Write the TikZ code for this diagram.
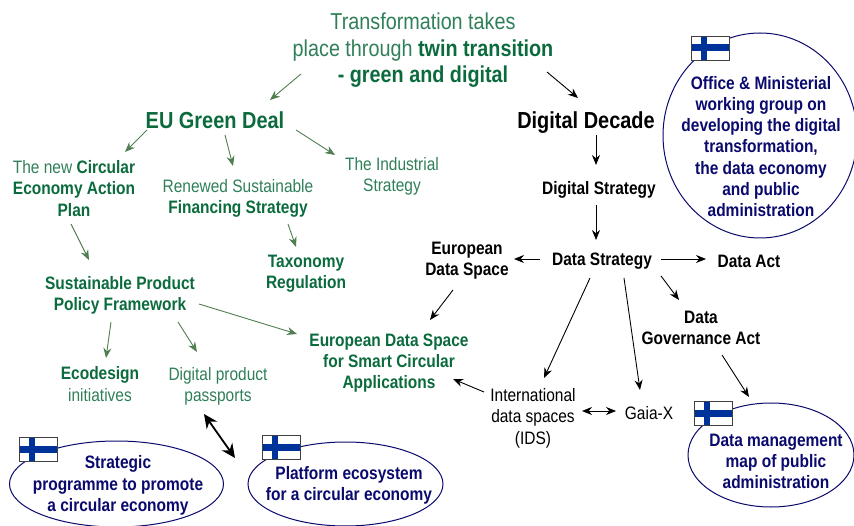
\documentclass[tikz,border=0pt]{standalone}
\usepackage{fontspec}
\setmainfont{Liberation Sans}[FakeStretch=0.86]
\usetikzlibrary{arrows.meta}
\definecolor{gdark}{HTML}{0B6B3C}
\definecolor{glight}{HTML}{2F7F58}
\definecolor{garrow}{HTML}{4F7F50}
\definecolor{navytxt}{HTML}{0A0A6E}
\definecolor{fiblue}{HTML}{003399}
\newcommand{\szA}{\fontsize{23}{26.5}\selectfont}
\newcommand{\szB}{\fontsize{23.2}{26}\selectfont\bfseries}
\newcommand{\szC}{\fontsize{18}{21.5}\selectfont}
\newcommand{\szD}{\fontsize{18}{21.3}\selectfont\bfseries}
\newcommand{\gb}[1]{\textcolor{gdark}{\bfseries #1}}
\tikzset{
  x=1pt,y=-1pt,
  lbl/.style={inner sep=0pt,align=center,anchor=center,yshift=-1.5pt},
  grn/.style={lbl,text=glight,font=\szC},
  grnb/.style={lbl,text=gdark,font=\szD},
  blk/.style={lbl,text=black,font=\szC},
  blkb/.style={lbl,text=black,font=\szD},
  nvy/.style={lbl,text=navytxt,font=\szD},
  ell/.style={draw=navytxt,line width=1pt,fill=white},
  garr/.style={draw=garrow,line width=0.9pt,-{Stealth[length=10pt,width=8pt]}},
  barr/.style={draw=black,line width=0.9pt,-{Stealth[length=10pt,width=8pt]}},
  darr/.style={draw=black,line width=0.9pt,{Stealth[length=10pt,width=8pt]}-{Stealth[length=10pt,width=8pt]}},
  tarr/.style={draw=black,line width=1.8pt,{Stealth[length=14pt,width=13pt]}-{Stealth[length=14pt,width=13pt]}},
}
\newcommand{\fiflag}[2]{%
  \fill[white] (#1,#2) rectangle ++(38,24);
  \fill[fiblue] (#1+10,#2) rectangle ++(6,24);
  \fill[fiblue] (#1,#2+8.5) rectangle ++(38,7);
  \draw[draw=black!75,line width=0.8pt] (#1,#2) rectangle ++(38,24);
}
\begin{document}
\begin{tikzpicture}
\useasboundingbox (0,0) rectangle (854,526);
% ellipses
\draw[ell] (116.5,484) ellipse [x radius=107,y radius=43];
\draw[ell] (345.5,484) ellipse [x radius=97.5,y radius=42];
\draw[ell] (760,135.5) ellipse [x radius=97,y radius=102.5];
\draw[ell] (771,455) ellipse [x radius=83,y radius=52];
\fiflag{19}{437}
\fiflag{262}{435}
\fiflag{691}{36}
\fiflag{694}{401}
% nodes
\node[lbl,text=glight,font=\szA] (title) at (423,49) {Transformation takes\\place through \gb{twin transition}\\\gb{- green and digital}};
\node[lbl,text=gdark,font=\szB] (eu) at (215,118.5) {EU Green Deal};
\node[lbl,text=black,font=\szB] (dd) at (586,121) {Digital Decade};
\node[grn] (cap) at (74,187) {The new \gb{Circular}\\\gb{Economy Action}\\\gb{Plan}};
\node[grn] (rsf) at (238,197) {Renewed Sustainable\\\gb{Financing Strategy}};
\node[grn] (ind) at (392,175) {The Industrial\\Strategy};
\node[grnb] (sppf) at (120,293.5) {Sustainable Product\\Policy Framework};
\node[grnb] (tax) at (306,272) {Taxonomy\\Regulation};
\node[blkb] (ds) at (599,188) {Digital Strategy};
\node[blkb] (eds) at (467,259) {European\\Data Space};
\node[blkb] (dst) at (602,259.5) {Data Strategy};
\node[blkb] (dact) at (749,259.5) {Data Act};
\node[blkb] (dga) at (701,326.5) {Data\\Governance Act};
\node[grnb] (edssca) at (389,361.5) {European Data Space\\for Smart Circular\\Applications};
\node[grn] (eco) at (100,382.5) {\gb{Ecodesign}\\initiatives};
\node[grn] (dpp) at (218,385) {Digital product\\passports};
\node[blk] (ids) at (533,416.5) {International\\data spaces\\(IDS)};
\node[blk] (gaia) at (649,412) {Gaia-X};
\node[nvy] (spc) at (118,484) {Strategic\\programme to promote\\a circular economy};
\node[nvy] (plat) at (349,484) {Platform ecosystem\\for a circular economy};
\node[nvy] (off) at (761,145) {Office \& Ministerial\\working group on\\developing the digital\\transformation,\\the data economy\\and public\\administration};
\node[nvy] (dm) at (776,460) {Data management\\map of public\\administration};
% connectors
\draw[garr] ([shift={(-122,25-1.5)}]title.center) -- ([shift={(55,-18.5-1.5)}]eu.center);
\draw[barr] ([shift={(124,23-1.5)}]title.center) -- ([shift={(-8,-23-1.5)}]dd.center);
\draw[garr] ([shift={(-68,11.5-1.5)}]eu.center) -- ([shift={(51,-35-1.5)}]cap.center);
\draw[garr] ([shift={(10,16.5-1.5)}]eu.center) -- ([shift={(-5,-31-1.5)}]rsf.center);
\draw[garr] ([shift={(81,11.5-1.5)}]eu.center) -- ([shift={(-57,-20-1.5)}]ind.center);
\draw[garr] ([shift={(-3,37-1.5)}]cap.center) -- ([shift={(-31,-33.5-1.5)}]sppf.center);
\draw[garr] ([shift={(50,27-1.5)}]rsf.center) -- ([shift={(-10,-25-1.5)}]tax.center);
\draw[garr] ([shift={(-9,28.5-1.5)}]sppf.center) -- ([shift={(6,-24.5-1.5)}]eco.center);
\draw[garr] ([shift={(58,28.5-1.5)}]sppf.center) -- ([shift={(-21,-33-1.5)}]dpp.center);
\draw[garr] ([shift={(79,10.5-1.5)}]sppf.center) -- ([shift={(-92,-27.5-1.5)}]edssca.center);
\draw[barr] ([shift={(10,14-1.5)}]dd.center) -- ([shift={(-3,-23-1.5)}]ds.center);
\draw[barr] ([shift={(-3,17-1.5)}]ds.center) -- ([shift={(-6,-19.5-1.5)}]dst.center);
\draw[barr] ([shift={(-62,-0.5-1.5)}]dst.center) -- ([shift={(47,0-1.5)}]eds.center);
\draw[barr] ([shift={(59,-0.5-1.5)}]dst.center) -- ([shift={(-43,-0.5-1.5)}]dact.center);
\draw[barr] ([shift={(59,16.5-1.5)}]dst.center) -- ([shift={(-22,-26.5-1.5)}]dga.center);
\draw[barr] ([shift={(-14,31-1.5)}]eds.center) -- ([shift={(41,-41.5-1.5)}]edssca.center);
\draw[barr] ([shift={(-12,18.5-1.5)}]dst.center) -- ([shift={(11,-38.5-1.5)}]ids.center);
\draw[barr] ([shift={(22,18.5-1.5)}]dst.center) -- ([shift={(-9,-22-1.5)}]gaia.center);
\draw[barr] ([shift={(-49,-24.5-1.5)}]ids.center) -- ([shift={(64,17.5-1.5)}]edssca.center);
\draw[darr] ([shift={(49,-5.5-1.5)}]ids.center) -- ([shift={(-33,-1-1.5)}]gaia.center);
\draw[barr] ([shift={(21,28.5-1.5)}]dga.center) -- ([shift={(-27,-63-1.5)}]dm.center);
\draw[tarr] ([shift={(-14,29-1.5)}]dpp.center) -- ([shift={(-114,-26-1.5)}]plat.center);
\end{tikzpicture}
\end{document}
